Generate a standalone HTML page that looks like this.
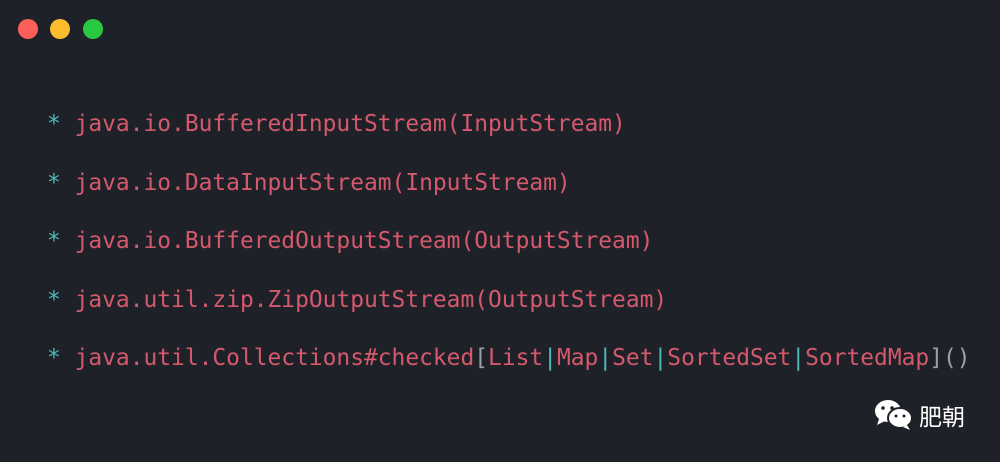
<!DOCTYPE html>
<html><head><meta charset="utf-8"><style>
html,body{margin:0;padding:0}
body{width:1000px;height:462px;background:#1f2129;position:relative;overflow:hidden;font-family:"DejaVu Sans Mono","Liberation Mono",monospace}
.dot{position:absolute;top:19px;width:20px;height:20px;border-radius:50%}
.l{position:absolute;left:47px;font-size:22.9px;color:#d4596c;white-space:pre;line-height:30px}
.s{color:#4fb8b8}
.g{color:#9aa0a8}
.wm{position:absolute;left:875px;top:398px;color:#fff;font-family:"Liberation Sans","Noto Sans CJK SC",sans-serif;font-size:23px}
</style></head><body>
<div class="dot" style="left:18px;background:#fc5f57"></div>
<div class="dot" style="left:50px;background:#fdbb2e"></div>
<div class="dot" style="left:83px;background:#28c840"></div>
<div class="l" style="top:109px"><span class="s">*</span> java.io.BufferedInputStream(InputStream)</div>
<div class="l" style="top:168px"><span class="s">*</span> java.io.DataInputStream(InputStream)</div>
<div class="l" style="top:226px"><span class="s">*</span> java.io.BufferedOutputStream(OutputStream)</div>
<div class="l" style="top:285px"><span class="s">*</span> java.util.zip.ZipOutputStream(OutputStream)</div>
<div class="l" style="top:343px"><span class="s">*</span> java.util.Collections#checked<span class="g">[</span>List<span class="s">|</span>Map<span class="s">|</span>Set<span class="s">|</span>SortedSet<span class="s">|</span>SortedMap<span class="g">]()</span></div>
<svg style="position:absolute;left:874px;top:398px" width="42" height="34" viewBox="0 0 42 34">
<ellipse cx="14" cy="13" rx="13" ry="11" fill="#fff"/>
<path d="M5 21 L3 27 L11 23Z" fill="#fff"/>
<ellipse cx="26" cy="20" rx="12" ry="10" fill="#fff" stroke="#1f2129" stroke-width="2"/>
<path d="M33 27 L36 32 L29 29Z" fill="#fff"/>
<circle cx="9" cy="10" r="1.8" fill="#1f2129"/><circle cx="18" cy="10" r="1.8" fill="#1f2129"/>
<circle cx="22" cy="18" r="1.5" fill="#1f2129"/><circle cx="30" cy="18" r="1.5" fill="#1f2129"/>
</svg>
<div class="wm" style="left:919px">肥朝</div>
</body></html>
